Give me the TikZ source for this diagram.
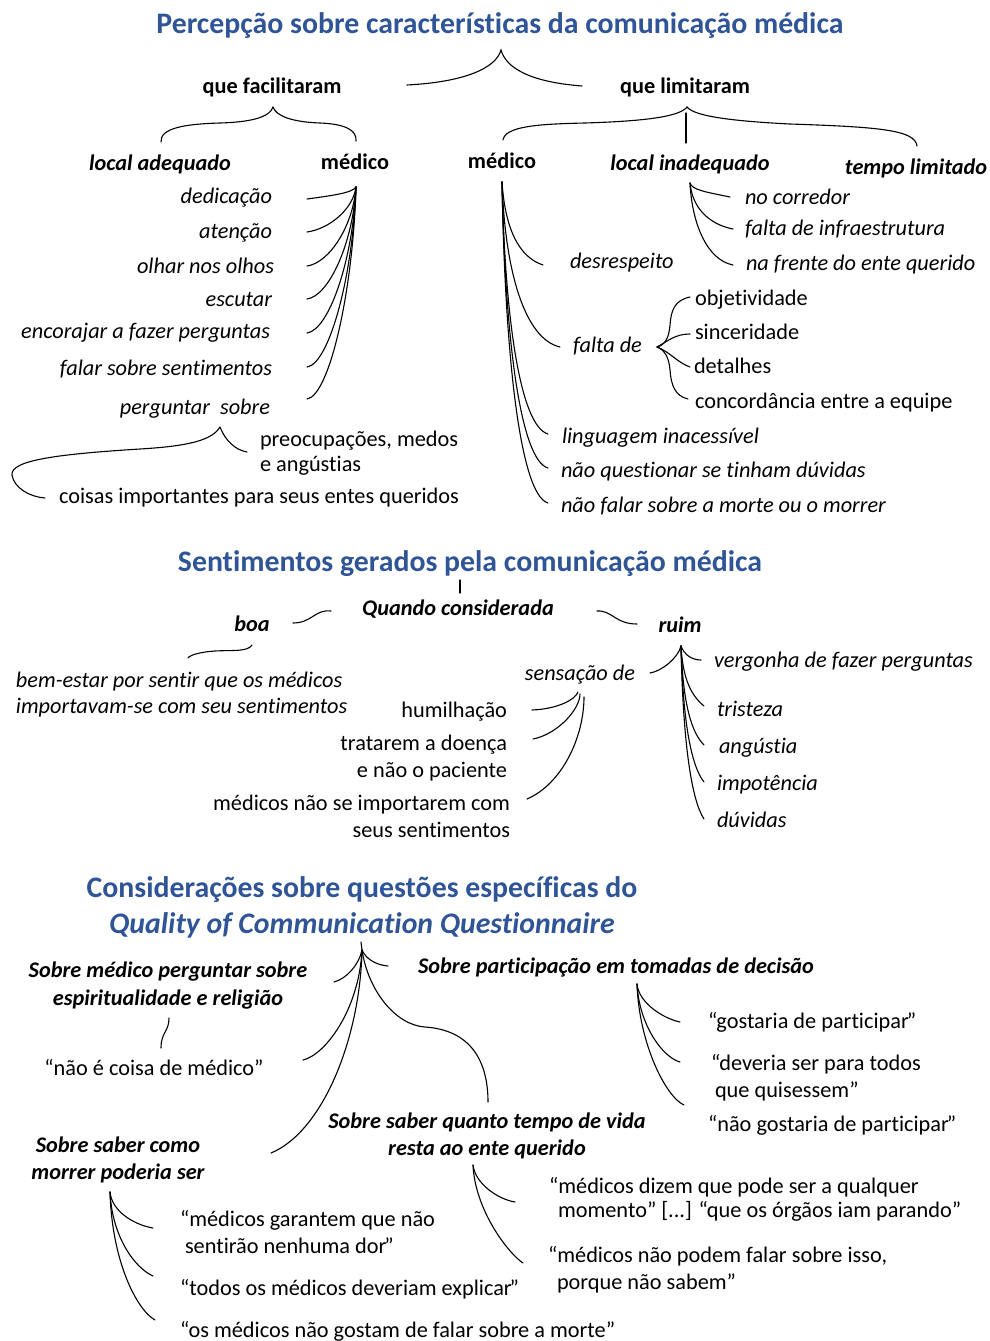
\documentclass[tikz,border=0pt]{standalone}
\usepackage{fontspec}
\setmainfont{Carlito}[Ligatures=NoCommon]
\definecolor{tblue}{HTML}{2F5597}
\newcommand\fsz{\fontsize{22.3}{27}\selectfont}
\newcommand\myrq{\kern-2pt”}
\tikzset{
  tx/.style={inner sep=0pt, outer sep=0pt, font=\fsz},
  ti/.style={inner sep=0pt, outer sep=0pt, font=\fsz\itshape},
  tb/.style={inner sep=0pt, outer sep=0pt, font=\fsz\bfseries},
  tbi/.style={inner sep=0pt, outer sep=0pt, font=\fsz\bfseries\itshape},
  ttl/.style={inner sep=0pt, outer sep=0pt, font=\fontsize{29.8}{36}\selectfont\bfseries, text=tblue},
  ln/.style={line width=1.1pt, line cap=round},
}
\begin{document}
\begin{tikzpicture}[x=1pt,y=-1pt]
\useasboundingbox (0,0) rectangle (989,1341);

% ---------------- Section 1 ----------------
\node[ttl, anchor=base] (t1) at (500,33) {Percepção sobre características da comunicação médica};
\node[tb, anchor=base] (fac) at (272,93) {que facilitaram};
\node[tb, anchor=base] (lim) at (685,93) {que limitaram};
\node[tbi, anchor=base] (locA) at (160,170) {local adequado};
\node[tb, anchor=base] (med1) at (355,169) {médico};
\node[tb, anchor=base] (med2) at (502,168) {médico};
\node[tbi, anchor=base] (locI) at (690,170) {local inadequado};
\node[tbi, anchor=base] (tempo) at (916,174) {tempo limitado};

\node[ti, anchor=base east] (ded) at (272,203) {dedicação};
\node[ti, anchor=base east] (ate) at (272,238) {atenção};
\node[ti, anchor=base east] (olh) at (274,273) {olhar nos olhos};
\node[ti, anchor=base east] (esc) at (272,306) {escutar};
\node[ti, anchor=base east] (enc) at (270,338) {encorajar a fazer perguntas};
\node[ti, anchor=base east] (fal) at (272,375) {falar sobre sentimentos};
\node[ti, anchor=base east] (per) at (270,414) {perguntar\ \ sobre};
\node[tx, anchor=base west, align=left, font=\fontsize{22.3}{25}\selectfont] (preo) at (260,471) {preocupações, medos\\e angústias};
\node[tx, anchor=base west] (coi) at (59,503) {coisas importantes para seus entes queridos};

\node[ti, anchor=base west] (des) at (570,268) {desrespeito};
\node[ti, anchor=base west] (fde) at (573,352) {falta de};
\node[ti, anchor=base west] (lin) at (562,443) {linguagem inacessível};
\node[ti, anchor=base west] (nqu) at (561,477) {não questionar se tinham dúvidas};
\node[ti, anchor=base west] (nfa) at (561,512) {não falar sobre a morte ou o morrer};

\node[tx, anchor=base west] (obj) at (695,305) {objetividade};
\node[tx, anchor=base west] (sin) at (695,339) {sinceridade};
\node[tx, anchor=base west] (det) at (694,373) {detalhes};
\node[tx, anchor=base west] (con) at (695,408) {concordância entre a equipe};

\node[ti, anchor=base west] (noc) at (745,204) {no corredor};
\node[ti, anchor=base west] (inf) at (745,235) {falta de infraestrutura};
\node[ti, anchor=base west] (nfr) at (746,270) {na frente do ente querido};

% top brace
\coordinate (b0) at (501,50);
\coordinate (b0l) at (407,85);
\coordinate (b0r) at (582,86);
\draw[ln] (b0l) .. controls (465,82) and (496,68) .. (b0) .. controls (506,68) and (530,82) .. (b0r);
% brace under que facilitaram
\coordinate (b1) at (273,107);
\coordinate (b1l) at (161,142);
\coordinate (b1r) at (356,141);
\draw[ln] (b1l) .. controls (160,128) and (185,124) .. (220,123) .. controls (255,122) and (270,116) .. (b1) .. controls (276,116) and (292,122) .. (320,123) .. controls (345,124) and (357,130) .. (b1r);
% brace under que limitaram
\coordinate (b2) at (687,107);
\coordinate (b2l) at (503,140);
\coordinate (b2r) at (917,146);
\draw[ln] (b2l) .. controls (505,126) and (540,124) .. (585,123) .. controls (650,121) and (680,116) .. (b2) .. controls (694,116) and (730,121) .. (790,124) .. controls (880,127) and (915,130) .. (b2r);
\coordinate (b2a) at (686,113);
\coordinate (b2b) at (686,143);
\draw[ln] (b2a) -- (b2b);

% left medico branches
\coordinate (m1o) at (356,187);
\foreach \n/\y in {ded/199,ate/232,olh/266,esc/299,enc/333,fal/367,per/399}{
  \coordinate (\n-e) at (307,\y);
  \draw[ln] (\n-e) .. controls +(22,-3) and +(-3,{(\y-187)*0.5}) .. (m1o);
}
% perguntar sobre brace
\coordinate (ps) at (220,427);
\coordinate (ps-r) at (247,452);
\coordinate (ps-l) at (45,498);
\draw[ln] (ps) .. controls (225,440) and (235,450) .. (ps-r);
\draw[ln] (ps) .. controls (212,440) and (190,446) .. (140,449) .. controls (60,454) and (10,460) .. (12,475) .. controls (14,488) and (30,497) .. (ps-l);

% right medico branches
\coordinate (m2o) at (502,182);
\foreach \n/\x/\y in {des/543/265,fde/560/347,lin/548/434,nqu/548/468,nfa/548/503}{
  \coordinate (\n-e) at (\x,\y);
  \draw[ln] (m2o) .. controls +(3,{(\y-182)*0.55}) and +({-(\x-502)*0.6},-8) .. (\n-e);
}
% falta de brace
\coordinate (fb) at (657,347);
\coordinate (fb1) at (690,297);
\coordinate (fb2) at (690,334);
\coordinate (fb3) at (690,367);
\coordinate (fb4) at (688,399);
\draw[ln] (fb1) .. controls (675,300) and (671,310) .. (670,325) .. controls (669,338) and (665,345) .. (fb) .. controls (665,350) and (669,358) .. (670,370) .. controls (671,385) and (675,396) .. (fb4);
\draw[ln] (fb) .. controls (668,341) and (675,334) .. (fb2);
\draw[ln] (fb) .. controls (670,352) and (678,363) .. (fb3);

% local inadequado branches
\coordinate (lio) at (690,183);
\foreach \n/\x/\y in {noc/730/197,inf/733/229,nfr/733/265}{
  \coordinate (\n-e) at (\x,\y);
  \draw[ln] (lio) .. controls +(2,{(\y-183)*0.5}) and +({-(\x-690)*0.6},-5) .. (\n-e);
}

% ---------------- Section 2 ----------------
\node[ttl, anchor=base] (t2) at (470,571) {Sentimentos gerados pela comunicação médica};
\node[tbi, anchor=base] (qua) at (458,615) {Quando considerada};
\node[tbi, anchor=base] (boa) at (252,631) {boa};
\node[tbi, anchor=base] (rui) at (680,632) {ruim};
\node[ti, anchor=base west, align=left, font=\fontsize{22.3}{26}\selectfont\itshape] (bem) at (16,713) {bem-estar por sentir que os médicos\\importavam-se com seu sentimentos};
\node[ti, anchor=base] (sen) at (580,680) {sensação de};
\node[ti, anchor=base west] (ver) at (714,667) {vergonha de fazer perguntas};
\node[ti, anchor=base west] (tri) at (717,716) {tristeza};
\node[ti, anchor=base west] (ang) at (719,753) {angústia};
\node[ti, anchor=base west] (imp) at (717,790) {impotência};
\node[ti, anchor=base west] (duv) at (717,827) {dúvidas};
\node[tx, anchor=base east] (hum) at (507,717) {humilhação};
\node[tx, anchor=base east, align=right] (tra) at (507,777) {tratarem a doença\\e não o paciente};
\node[tx, anchor=base east, align=right] (mnsi) at (510,837) {médicos não se importarem com\\seus sentimentos};

\coordinate (tk1) at (460,580);
\coordinate (tk2) at (460,593);
\draw[ln] (tk1) -- (tk2);
\coordinate (qb1) at (331,611);
\coordinate (qb2) at (293,623);
\draw[ln] (qb1) .. controls (315,609) and (312,623) .. (qb2);
\coordinate (qr1) at (597,611);
\coordinate (qr2) at (637,624);
\draw[ln] (qr1) .. controls (612,610) and (615,624) .. (qr2);
\coordinate (bb1) at (252,645);
\coordinate (bb2) at (188,658);
\draw[ln] (bb1) .. controls (248,652) and (232,650) .. (215,651) .. controls (200,652) and (190,655) .. (bb2);

\coordinate (ro) at (681,646);
\coordinate (sen-e) at (650,673);
\draw[ln] (ro) .. controls +(-3,12) and +(12,-2) .. (sen-e);
\coordinate (ver-e) at (701,660);
\draw[ln] (ro) .. controls +(3,8) and +(-10,0) .. (ver-e);
\foreach \n/\y/\a/\b in {tri/706/35/10,ang/745/60/12,imp/782/80/15,duv/819/100/18}{
  \coordinate (\n-e) at (704,\y);
  \draw[ln] (ro) .. controls +(2,\a) and +(-12,-\b) .. (\n-e);
}
\coordinate (so1) at (578,692);
\coordinate (so2) at (580,694);
\coordinate (so3) at (584,697);
\coordinate (hum-e) at (532,710);
\coordinate (tra-e) at (533,739);
\coordinate (mns-e) at (527,799);
\draw[ln] (hum-e) .. controls +(25,-1) and +(-3,8) .. (so1);
\draw[ln] (tra-e) .. controls +(25,-5) and +(0,15) .. (so2);
\draw[ln] (mns-e) .. controls +(35,-15) and +(0,40) .. (so3);

% ---------------- Section 3 ----------------
\node[ttl, anchor=base, align=center] (t3) at (362,933) {Considerações sobre questões específicas do\\\itshape Quality of Communication Questionnaire};
\node[tbi, anchor=base, align=center, font=\fontsize{22.3}{28}\selectfont\bfseries\itshape] (smp) at (168,1005) {Sobre médico perguntar sobre\\espiritualidade e religião};
\node[tx, anchor=base] (nec) at (154,1075) {“não é coisa de médico”};
\node[tbi, anchor=base] (spa) at (616,973) {Sobre participação em tomadas de decisão};
\node[tx, anchor=base west] (gos) at (708,1028) {“gostaria de participar\myrq};
\node[tx, anchor=base west, align=left] (dev) at (711,1097) {“deveria ser para todos\\\hspace*{4pt}que quisessem”};
\node[tx, anchor=base west] (ngo) at (708,1131) {“não gostaria de participar\myrq};
\node[tbi, anchor=base, align=center] (ssq) at (487,1155) {Sobre saber quanto tempo de vida\\resta ao ente querido};
\node[tbi, anchor=base, align=center] (ssc) at (118,1179) {Sobre saber como\\morrer poderia ser};
\node[tx, anchor=base west, align=left, font=\fontsize{22.3}{24}\selectfont] (mdz) at (549,1217) {“médicos dizem que pode ser a qualquer\\\hspace*{9pt}momento” [...] “que os órgãos iam parando”};
\node[tx, anchor=base west, align=left] (mnp) at (548,1289) {“médicos não podem falar sobre isso,\\\hspace*{9pt}porque não sabem”};
\node[tx, anchor=base west, align=left] (mga) at (180,1253) {“médicos garantem que não\\\hspace*{5pt}sentirão nenhuma dor\myrq};
\node[tx, anchor=base west] (tod) at (180,1295) {“todos os médicos deveriam explicar\myrq};
\node[tx, anchor=base west] (osm) at (180,1337) {“os médicos não gostam de falar sobre a morte”};

\coordinate (qo) at (361,942);
\coordinate (qb) at (362,950);
\draw[ln] (qo) -- (qb);
\coordinate (spa-e) at (388,966);
\draw[ln] (qb) .. controls +(4,9) and +(-12,-1) .. (spa-e);
\coordinate (smp-e) at (334,982);
\draw[ln] (qb) .. controls +(-3,15) and +(12,-3) .. (smp-e);
\coordinate (nec-e) at (303,1060);
\draw[ln] (qb) .. controls +(-3,60) and +(22,-5) .. (nec-e);
\coordinate (ssc-e) at (271,1153);
\draw[ln] (qb) .. controls (360,1040) and (322,1132) .. (ssc-e);
\coordinate (ssq-e) at (488,1102);
\draw[ln] (qb) .. controls (368,990) and (395,1025) .. (425,1027) .. controls (470,1030) and (488,1060) .. (ssq-e);

\coordinate (sm1) at (169,1018);
\coordinate (sm2) at (161,1048);
\draw[ln] (sm1) .. controls (169,1032) and (161,1032) .. (sm2);

\coordinate (po) at (637,984);
\coordinate (gos-e) at (680,1022);
\coordinate (dev-e) at (680,1062);
\coordinate (ngo-e) at (684,1105);
\draw[ln] (po) .. controls +(2,20) and +(-15,-3) .. (gos-e);
\draw[ln] (po) .. controls +(2,40) and +(-18,-5) .. (dev-e);
\draw[ln] (po) .. controls +(2,60) and +(-18,-8) .. (ngo-e);

\coordinate (to) at (473,1165);
\coordinate (mdz-e) at (515,1202);
\coordinate (mnp-e) at (523,1263);
\draw[ln] (to) .. controls +(2,18) and +(-18,-3) .. (mdz-e);
\draw[ln] (to) .. controls +(2,45) and +(-15,-10) .. (mnp-e);

\coordinate (mo) at (110,1192);
\coordinate (mga-e) at (153,1228);
\coordinate (tod-e) at (153,1276);
\coordinate (osm-e) at (155,1320);
\draw[ln] (mo) .. controls +(2,20) and +(-18,-3) .. (mga-e);
\draw[ln] (mo) .. controls +(2,45) and +(-18,-8) .. (tod-e);
\draw[ln] (mo) .. controls +(2,70) and +(-18,-10) .. (osm-e);
\end{tikzpicture}
\end{document}
